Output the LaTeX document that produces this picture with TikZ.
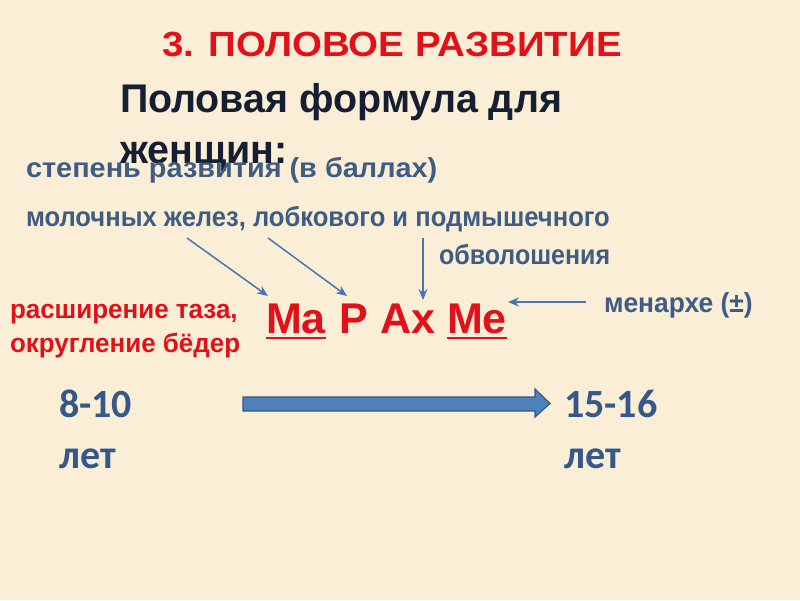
\documentclass[tikz,border=0pt]{standalone}
\usepackage{fontspec}
\setmainfont{Liberation Sans}
\newfontfamily\calib{Carlito}
\usetikzlibrary{arrows.meta}
\definecolor{bg}{RGB}{250,239,214}
\definecolor{titlered}{RGB}{226,16,24}
\definecolor{headnavy}{RGB}{22,30,50}
\definecolor{txtblue}{RGB}{62,92,132}
\definecolor{numblue}{RGB}{52,88,138}
\definecolor{arrblue}{RGB}{72,118,176}
\definecolor{bigfill}{RGB}{79,129,189}
\definecolor{bigdraw}{RGB}{52,88,136}
\tikzset{
  txt/.style={anchor=base west, inner sep=0pt, outer sep=0pt},
  bluetxt/.style={txt, text=txtblue, font=\bfseries\fontsize{27.5}{30}\selectfont},
  redtxt/.style={txt, text=titlered, font=\bfseries\fontsize{26.5}{30}\selectfont},
  formula/.style={txt, text=titlered, font=\bfseries\fontsize{43}{48}\selectfont},
  numtxt/.style={txt, text=numblue, font=\calib\bfseries\fontsize{40}{46}\selectfont},
  headtxt/.style={txt, text=headnavy, font=\bfseries\fontsize{40}{46}\selectfont, xscale=0.985},
  thinarrow/.style={draw=arrblue, line width=1.5pt, -{Stealth[length=11pt,width=9pt]}},
  uline/.style={draw=titlered, line width=2.8pt}
}
\begin{document}
\begin{tikzpicture}[x=1pt,y=-1pt]
\fill[bg] (0,0) rectangle (800,600);
\useasboundingbox (0,0) rectangle (800,600);
% title
\node[txt, text=titlered, font=\bfseries\fontsize{35}{40}\selectfont, xscale=1.1] (title) at (162,56.5) {3. ПОЛОВОЕ РАЗВИТИЕ};
% heading
\node[headtxt] (head1) at (120,112) {Половая формула для};
\node[headtxt] (head2) at (120,163) {женщин:};
% blue labels
\node[bluetxt, xscale=1.05] (deg) at (26,177) {степень развития (в баллах)};
\node[bluetxt, xscale=0.93] (glands) at (26,226) {молочных желез, лобкового и подмышечного};
\node[bluetxt, xscale=0.91] (hair) at (439,264) {обволошения};
\node[bluetxt, xscale=0.96] (men) at (604,312) {менархе (±)};
% red labels
\node[redtxt, xscale=0.98] (pelv1) at (10,318) {расширение таза,};
\node[redtxt, xscale=0.98] (pelv2) at (10,352) {округление бёдер};
% formula
\node[formula] (Ma) at (266,333) {Ma};
\node[formula] (P) at (339,333) {P};
\node[formula] (Ax) at (380,333) {Ax};
\node[formula] (Me) at (447,333) {Me};
\draw[uline] (Ma.base west) ++(0,5) coordinate (ma1) -- (ma1 -| Ma.base east);
\draw[uline] (Me.base west) ++(0,5) coordinate (me1) -- (me1 -| Me.base east);
% thin arrows
\coordinate (s1) at (187,238);
\coordinate (s2) at (268,238);
\coordinate (s3) at (423,238);
\coordinate (s4) at (586,302);
\draw[thinarrow] (s1) -- (268,296);
\draw[thinarrow] (s2) -- (347,296);
\draw[thinarrow] (s3) -- (423,300);
\draw[thinarrow] (s4) -- (508,302);
% ages
\node[numtxt] (a1) at (59,417) {8-10};
\node[numtxt] (a2) at (59,468) {лет};
\node[numtxt] (b1) at (564,417) {15-16};
\node[numtxt] (b2) at (564,468) {лет};
% big arrow
\draw[fill=bigfill, draw=bigdraw, line width=1.2pt, line join=miter]
  (243,397) -- (535,397) -- (535,389) -- (550,403.5) -- (535,417) -- (535,411) -- (243,411) -- cycle;
\end{tikzpicture}
\end{document}
